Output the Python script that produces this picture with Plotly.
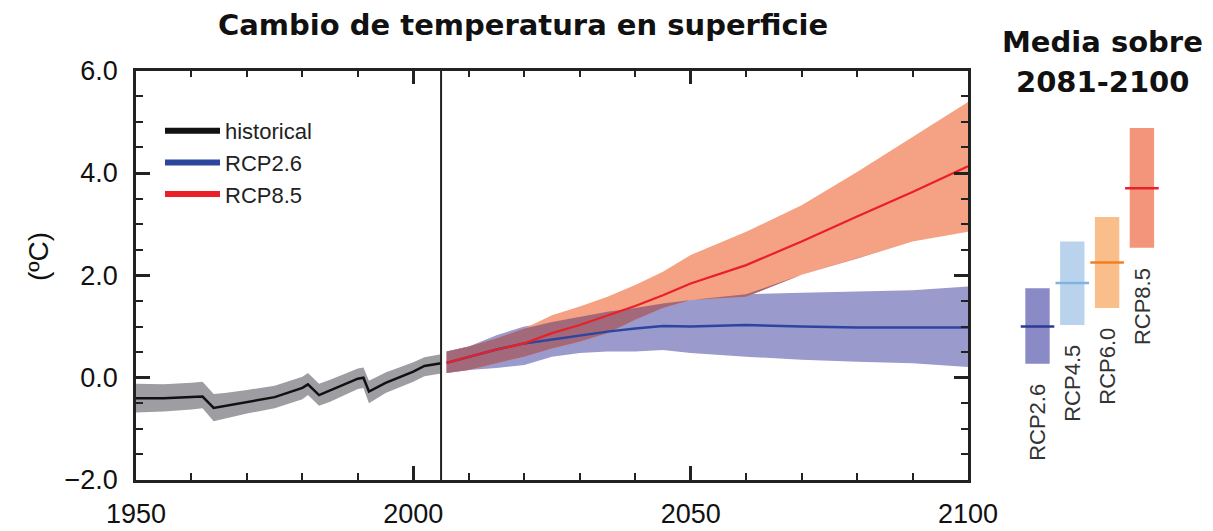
import numpy as np
import plotly.graph_objects as go

# ---------------- data ----------------
hist_years = [1950, 1955, 1960, 1962, 1964, 1966, 1970, 1975, 1980, 1981, 1983, 1985, 1990, 1991, 1992, 1995, 2000, 2002, 2005]
hist_mean  = [-0.40, -0.40, -0.38, -0.37, -0.59, -0.55, -0.47, -0.38, -0.20, -0.13, -0.34, -0.25, -0.02, 0.00, -0.27, -0.10, 0.12, 0.23, 0.28]
hist_lo    = [-0.68, -0.66, -0.62, -0.60, -0.85, -0.80, -0.70, -0.60, -0.42, -0.34, -0.55, -0.47, -0.22, -0.20, -0.50, -0.30, -0.08, 0.03, 0.08]
hist_hi    = [-0.12, -0.13, -0.10, -0.08, -0.32, -0.30, -0.24, -0.16, 0.02, 0.09, -0.12, -0.04, 0.18, 0.20, -0.06, 0.10, 0.30, 0.40, 0.46]

rcp_years = [2006, 2010, 2015, 2020, 2025, 2030, 2035, 2040, 2045, 2050, 2060, 2070, 2080, 2090, 2100]
rcp26_mean = [0.29, 0.41, 0.55, 0.67, 0.75, 0.83, 0.90, 0.96, 1.01, 1.00, 1.03, 1.00, 0.98, 0.98, 0.98]
rcp26_lo   = [0.09, 0.15, 0.19, 0.25, 0.41, 0.48, 0.51, 0.51, 0.54, 0.48, 0.41, 0.35, 0.31, 0.28, 0.21]
rcp26_hi   = [0.51, 0.61, 0.83, 1.00, 1.09, 1.19, 1.29, 1.36, 1.45, 1.52, 1.63, 1.66, 1.68, 1.71, 1.78]
rcp85_mean = [0.29, 0.41, 0.55, 0.67, 0.87, 1.03, 1.22, 1.40, 1.61, 1.84, 2.20, 2.66, 3.15, 3.63, 4.13]
rcp85_lo   = [0.09, 0.15, 0.28, 0.41, 0.57, 0.70, 0.87, 1.13, 1.36, 1.52, 1.58, 2.01, 2.33, 2.66, 2.85]
rcp85_hi   = [0.51, 0.61, 0.77, 0.96, 1.22, 1.39, 1.58, 1.81, 2.07, 2.40, 2.85, 3.37, 4.02, 4.71, 5.39]

bar_names = ["RCP2.6", "RCP4.5", "RCP6.0", "RCP8.5"]
bar_mean  = [1.00, 1.85, 2.25, 3.70]
bar_lo    = [0.27, 1.03, 1.36, 2.54]
bar_hi    = [1.75, 2.66, 3.14, 4.88]

legend_names = ["historical", "RCP2.6", "RCP8.5"]
x_ticks = [1950, 2000, 2050, 2100]
y_ticks = [-2, 0, 2, 4, 6]

# ---------------- styles ----------------
W, H = 1213, 531
C_HIST_BAND = "#9d9da2"
C_BLUE_BAND = "#9a9acd"
C_RED_BAND = "#f4a283"
C_OVERLAP = "#a2697b"
C_BLUE = "#2c46a0"
C_RED = "#ea1f28"
bar_fill = ["#8a8ac6", "#bad3ec", "#f9be8a", "#f2957a"]
bar_line = ["#2c3a94", "#7fb3e2", "#f07f24", "#e8202a"]

def px_x(p):
    return p / W

def px_y(p):
    return (H - p) / H

fig = go.Figure()

def band(xs, lo, hi, color):
    fig.add_trace(go.Scatter(x=xs, y=lo, mode="lines", line=dict(width=0, color=color),
                             showlegend=False, hoverinfo="skip"))
    fig.add_trace(go.Scatter(x=xs, y=hi, mode="lines", line=dict(width=0, color=color),
                             fill="tonexty", fillcolor=color, showlegend=False, hoverinfo="skip"))

b_lo = np.array(rcp26_lo); b_hi = np.array(rcp26_hi)
r_lo = np.array(rcp85_lo); r_hi = np.array(rcp85_hi)
ov_lo = np.maximum(b_lo, r_lo)
ov_hi = np.maximum(ov_lo, np.minimum(b_hi, r_hi))

band(rcp_years, rcp26_lo, rcp26_hi, C_BLUE_BAND)
band(rcp_years, rcp85_lo, rcp85_hi, C_RED_BAND)
band(rcp_years, list(ov_lo), list(ov_hi), C_OVERLAP)
band(hist_years, hist_lo, hist_hi, C_HIST_BAND)

fig.add_trace(go.Scatter(x=hist_years, y=hist_mean, mode="lines", line=dict(color="#111111", width=2.5),
                         showlegend=False))
fig.add_trace(go.Scatter(x=rcp_years, y=rcp26_mean, mode="lines", line=dict(color=C_BLUE, width=2.5),
                         showlegend=False))
fig.add_trace(go.Scatter(x=rcp_years, y=rcp85_mean, mode="lines", line=dict(color=C_RED, width=2.2),
                         showlegend=False))

# legend entries
for name, col in zip(legend_names, ["#111111", C_BLUE, C_RED]):
    fig.add_trace(go.Scatter(x=[None], y=[None], mode="lines", name=name,
                             line=dict(color=col, width=6)))

# right panel bars (own invisible axes with the same scale)
bx = list(range(1, len(bar_names) + 1))
fig.add_trace(go.Bar(x=bx, y=[h - l for h, l in zip(bar_hi, bar_lo)], base=bar_lo,
                     width=0.7, marker=dict(color=bar_fill, line=dict(width=0)),
                     xaxis="x2", yaxis="y2", showlegend=False))
fig.add_trace(go.Scatter(x=bx, y=bar_mean, mode="markers", xaxis="x2", yaxis="y2",
                         marker=dict(symbol="line-ew", size=24, line=dict(width=2.5, color=bar_line)),
                         showlegend=False))

for i, name in enumerate(bar_names):
    fig.add_annotation(x=bx[i], y=bar_lo[i], xref="x2", yref="y2", text=name, showarrow=False,
                       textangle=-90, yanchor="top", xanchor="center", yshift=-18,
                       font=dict(family="Liberation Sans, Arial", size=22, color="#333333"))

# vertical line at end of historical period
fig.add_shape(type="line", x0=hist_years[-1], x1=hist_years[-1], y0=0, y1=1, xref="x", yref="y domain",
              line=dict(color="#222222", width=2))

axis_common = dict(showline=True, linecolor="#222222", linewidth=2.5, mirror="allticks",
                   ticks="inside", tickwidth=2.5, tickcolor="#222222", ticklen=14,
                   showgrid=False, zeroline=False, automargin=False,
                   tickfont=dict(family="Liberation Sans, Arial", size=27, color="#111111"))

ydom = [px_y(480), px_y(70.7)]
fig.update_layout(
    width=W, height=H,
    margin=dict(l=0, r=0, t=0, b=0, autoexpand=False),
    paper_bgcolor="white", plot_bgcolor="white",
    xaxis=dict(domain=[px_x(136), px_x(968)], range=[1950, 2100], tickvals=x_ticks,
               minor=dict(dtick=10, ticks="inside", ticklen=7, tickwidth=2, tickcolor="#222222"),
               ticklabelstandoff=8, **axis_common),
    yaxis=dict(domain=ydom, range=[-2, 6], tickvals=y_ticks, tickformat=".1f",
               minor=dict(dtick=0.5, ticks="inside", ticklen=7, tickwidth=2, tickcolor="#222222"),
               ticklabelstandoff=10, **axis_common),
    xaxis2=dict(domain=[px_x(1020.1), px_x(1159.3)], range=[0.5, 4.5], visible=False, anchor="y2"),
    yaxis2=dict(domain=ydom, range=[-2, 6], visible=False, anchor="x2"),
    legend=dict(x=px_x(160), y=px_y(110), xanchor="left", yanchor="top", traceorder="normal",
                font=dict(family="Liberation Sans, Arial", size=22, color="#222222"),
                itemwidth=55, bgcolor="rgba(0,0,0,0)", tracegroupgap=0),
    showlegend=True,
)

def paper_text(x, y, text, size, family, angle=0):
    fig.add_annotation(x=px_x(x), y=px_y(y), xref="paper", yref="paper", showarrow=False,
                       xanchor="center", yanchor="middle", text=text, textangle=angle,
                       font=dict(family=family, size=size, color="#111111"))

paper_text(523, 25, "<b>Cambio de temperatura en superficie</b>", 29, "DejaVu Sans")
paper_text(1102, 42, "<b>Media sobre</b>", 29, "DejaVu Sans")
paper_text(1102, 82, "<b>2081-2100</b>", 29, "DejaVu Sans")
paper_text(38, 257, "(ºC)", 28, "Liberation Sans, Arial", angle=-90)

fig.write_html("out.html")
